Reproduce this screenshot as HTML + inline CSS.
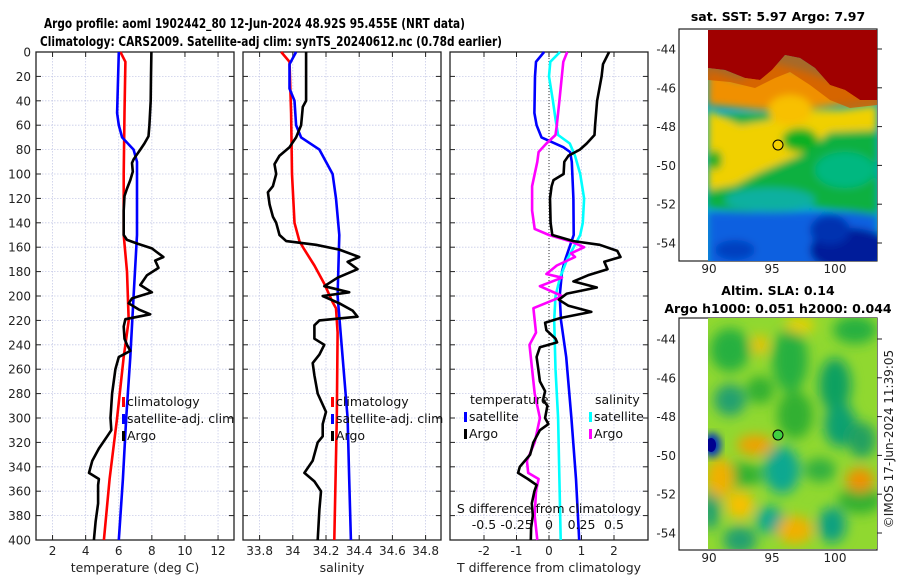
<!DOCTYPE html>
<html><head><meta charset="utf-8"><style>
html,body{margin:0;padding:0;background:#fff;}
svg{display:block;font-family:"DejaVu Sans","Liberation Sans",sans-serif;}
</style></head><body>
<svg id="fig" width="900" height="580" viewBox="0 0 900 580" xmlns="http://www.w3.org/2000/svg">
<defs>
<filter id="bl" x="-20%" y="-20%" width="140%" height="140%"><feGaussianBlur stdDeviation="4"/></filter>
<filter id="bl2" x="-20%" y="-20%" width="140%" height="140%"><feGaussianBlur stdDeviation="6"/></filter>
<clipPath id="c1"><rect x="708" y="30" width="169" height="231"/></clipPath>
<clipPath id="c2"><rect x="708" y="318" width="169" height="231"/></clipPath>
</defs>
<text x="44" y="28" font-size="13" font-weight="bold" textLength="421" lengthAdjust="spacingAndGlyphs">Argo profile: aoml 1902442_80 12-Jun-2024 48.92S 95.455E (NRT data)</text>
<text x="40" y="46" font-size="13" font-weight="bold" textLength="462" lengthAdjust="spacingAndGlyphs">Climatology: CARS2009. Satellite-adj clim: synTS_20240612.nc (0.78d earlier)</text>
<g id="plots"></g>
<!-- Map 1: SST -->
<g>
<rect x="679" y="29" width="198" height="232" fill="#fff" stroke="#222" stroke-width="1.2"/>
<g clip-path="url(#c1)">
<rect x="708" y="30" width="169" height="231" fill="#00a8d0"/>
<g filter="url(#bl)">
<rect x="708" y="212" width="169" height="60" fill="#1060e0"/>
<ellipse cx="850" cy="250" rx="40" ry="22" fill="#001a9a"/>
<ellipse cx="830" cy="230" rx="20" ry="15" fill="#0030b0"/>
<ellipse cx="735" cy="250" rx="20" ry="10" fill="#0040c0"/>
<path d="M708 115 L877 110 L877 215 L800 205 L750 212 L708 208 Z" fill="#10b040"/>
<path d="M708 110 L740 125 L770 120 L800 110 L840 110 L877 105 L877 130 L830 132 L800 155 L760 172 L735 185 L708 190 Z" fill="#f0d000"/>
<path d="M708 70 L740 80 L770 62 L800 70 L830 80 L877 85 L877 100 L840 105 L800 110 L760 110 L740 108 L708 105 Z" fill="#f09000"/>
<ellipse cx="790" cy="110" rx="22" ry="15" fill="#f8c000"/>
<ellipse cx="770" cy="200" rx="45" ry="12" fill="#10b0a0"/>
<ellipse cx="845" cy="170" rx="30" ry="18" fill="#00b880"/>
<ellipse cx="800" cy="140" rx="18" ry="12" fill="#10b020"/>
<ellipse cx="715" cy="160" rx="7" ry="10" fill="#20b020"/>
</g>
<path d="M708 30 L877 30 L877 100 L860 100 L845 90 L830 85 L815 68 L800 58 L785 55 L772 70 L760 80 L745 78 L725 70 L708 68 Z" fill="#a00000"/>
<path d="M708 68 L725 70 L745 78 L760 80 L772 70 L785 55 L800 58 L815 68 L830 85 L845 90 L860 100 L877 100 L877 105 L850 108 L830 100 L810 85 L790 72 L775 78 L755 88 L730 82 L708 80 Z" fill="#d05a00" opacity="0.8"/>
</g>
<circle cx="778" cy="145" r="5" fill="#f4d000" stroke="#000" stroke-width="1"/>
<text x="778" y="21" font-size="12.5" font-weight="bold" text-anchor="middle">sat. SST: 5.97 Argo: 7.97</text>
</g>
<!-- Map 2: SLA -->
<g>
<rect x="679" y="318" width="198" height="232" fill="#fff" stroke="#222" stroke-width="1.2"/>
<g clip-path="url(#c2)">
<rect x="708" y="318" width="169" height="231" fill="#90d830"/>
<g filter="url(#bl2)">
<ellipse cx="730" cy="350" rx="20" ry="22" fill="#28b040"/>
<ellipse cx="790" cy="360" rx="18" ry="32" fill="#28b040"/>
<ellipse cx="855" cy="330" rx="22" ry="14" fill="#28b040"/>
<ellipse cx="835" cy="385" rx="16" ry="27" fill="#10a060"/>
<ellipse cx="730" cy="400" rx="16" ry="16" fill="#20a070"/>
<ellipse cx="795" cy="415" rx="18" ry="24" fill="#30b030"/>
<ellipse cx="840" cy="425" rx="16" ry="22" fill="#10a070"/>
<ellipse cx="862" cy="440" rx="14" ry="18" fill="#20a060"/>
<ellipse cx="782" cy="470" rx="18" ry="24" fill="#10a890"/>
<ellipse cx="740" cy="475" rx="24" ry="12" fill="#30b030"/>
<ellipse cx="820" cy="470" rx="16" ry="12" fill="#30b040"/>
<ellipse cx="770" cy="520" rx="14" ry="14" fill="#10a890"/>
<ellipse cx="832" cy="525" rx="14" ry="18" fill="#10a080"/>
<ellipse cx="860" cy="500" rx="22" ry="14" fill="#30b030"/>
<ellipse cx="740" cy="540" rx="17" ry="14" fill="#20a070"/>
<ellipse cx="710" cy="510" rx="10" ry="20" fill="#20a070"/>
<ellipse cx="760" cy="390" rx="14" ry="14" fill="#30b030"/>
<ellipse cx="755" cy="445" rx="18" ry="10" fill="#f0a000"/>
<ellipse cx="720" cy="478" rx="14" ry="20" fill="#f0b000"/>
<ellipse cx="740" cy="505" rx="14" ry="14" fill="#f8c000"/>
<ellipse cx="860" cy="480" rx="14" ry="12" fill="#f09000"/>
<ellipse cx="795" cy="530" rx="18" ry="14" fill="#f0b000"/>
<ellipse cx="760" cy="345" rx="8" ry="10" fill="#f0c000"/>
<ellipse cx="800" cy="325" rx="15" ry="8" fill="#e8d000"/>
</g>
<ellipse cx="712" cy="445" rx="9" ry="12" fill="#0030c0" filter="url(#bl)"/>
<ellipse cx="711" cy="445" rx="5" ry="7" fill="#000090"/>
</g>
<circle cx="778" cy="435" r="5" fill="#40d040" stroke="#000" stroke-width="1"/>
<text x="778" y="295" font-size="12.5" font-weight="bold" text-anchor="middle">Altim. SLA: 0.14</text>
<text x="778" y="313" font-size="12.5" font-weight="bold" text-anchor="middle">Argo h1000: 0.051 h2000: 0.044</text>
</g>
<text transform="translate(893,439) rotate(-90)" font-size="12" text-anchor="middle" fill="#222">©IMOS 17-Jun-2024 11:39:05</text>
<g id="mapaxes"></g>
</svg>
<script>
const NS="http://www.w3.org/2000/svg";
// depth grid
const depthTicks=[0,20,40,60,80,100,120,140,160,180,200,220,240,260,280,300,320,340,360,380,400];
// Temperature panel
const tempTicks=[2,4,6,8,10,12];
const tArgoD=[0,20,40,60,69,75,80,85,88,91,98,105,112,118,130,150,154,157,161,164,168,171,177,183,191,197,202,206,211,215,219,225,235,240,245,250,260,280,300,310,315,325,335,345,350,355,370,385,400];
const tArgoV=[7.97,7.95,7.93,7.85,7.8,7.55,7.3,7.05,6.9,6.8,6.85,6.7,6.5,6.35,6.3,6.3,6.5,7.1,8.0,8.3,8.7,8.2,8.4,7.7,7.3,8.0,6.8,6.6,7.2,7.9,6.4,6.3,6.35,6.5,6.7,6.0,5.8,5.6,5.5,5.55,5.3,4.8,4.4,4.2,4.8,4.75,4.75,4.6,4.5];
const tClimD=[0,8,50,100,150,180,220,250,300,350,400];
const tClimV=[6.1,6.4,6.35,6.3,6.3,6.5,6.6,6.3,5.9,5.45,5.1];
const tSatD=[0,50,60,70,80,90,150,200,250,300,350,400];
const tSatV=[6.0,5.9,6.0,6.2,6.9,7.1,7.1,6.9,6.7,6.45,6.25,6.0];
// Salinity panel
const salTicks=[33.8,34,34.2,34.4,34.6,34.8];
const sArgoD=[0,40,45,60,70,78,85,92,100,110,115,125,135,140,150,155,158,162,168,172,178,185,192,197,200,206,212,217,220,224,235,240,248,255,265,280,295,305,315,320,335,345,352,360,375,400];
const sArgoV=[34.08,34.08,34.06,34.05,34.02,33.98,33.92,33.89,33.9,33.88,33.85,33.86,33.88,33.9,33.92,33.96,34.14,34.28,34.4,34.33,34.39,34.27,34.19,34.34,34.18,34.28,34.36,34.39,34.16,34.13,34.13,34.19,34.16,34.12,34.13,34.15,34.2,34.18,34.18,34.15,34.12,34.07,34.13,34.17,34.16,34.15];
const sClimD=[0,8,50,100,140,155,162,175,190,205,210,230,300,400];
const sClimV=[33.93,33.98,33.99,33.995,34.01,34.04,34.07,34.13,34.19,34.24,34.26,34.27,34.265,34.25];
const sSatD=[0,10,30,40,60,70,80,100,120,150,200,250,300,350,400];
const sSatV=[34.02,33.98,33.98,34.01,34.02,34.05,34.16,34.24,34.26,34.28,34.27,34.3,34.33,34.34,34.35];
// Difference panel
const dTicksT=[-2,-1,0,1,2];
const dTicksS=[-0.5,-0.25,0,0.25,0.5];
const dTArgoD=[0,10,20,40,60,68,75,80,85,90,100,105,110,120,140,150,155,158,163,168,172,178,183,188,193,198,203,208,213,218,222,228,235,238,242,250,260,270,278,285,290,300,305,310,320,330,340,345,350,355,360,370,380,390,400];
const dTArgoV=[1.85,1.66,1.62,1.48,1.42,1.4,1.16,0.95,0.6,0.47,0.45,0.14,0.08,0.03,0.05,0.1,0.75,1.56,2.1,2.2,1.7,1.8,1.2,0.75,1.47,0.55,0.3,0.6,1.3,0.35,-0.12,-0.08,0.2,0.25,-0.28,-0.38,-0.33,-0.28,-0.12,-0.18,-0.05,-0.12,-0.02,-0.28,-0.48,-0.58,-0.9,-0.95,-0.65,-0.38,-0.45,-0.53,-0.5,-0.55,-0.56];
const dTSatD=[0,8,20,50,60,70,78,82,90,120,150,160,170,180,200,220,250,300,350,400];
const dTSatV=[-0.15,-0.4,-0.43,-0.45,-0.38,-0.23,0.44,0.65,0.7,0.75,0.76,0.63,0.5,0.4,0.33,0.37,0.53,0.69,0.83,0.93];
const dSSatD=[0,8,20,40,55,68,75,85,100,120,140,150,160,170,185,200,220,260,300,350,400];
const dSSatV=[0.085,0.01,0.0,0.03,0.05,0.07,0.16,0.2,0.24,0.27,0.26,0.24,0.19,0.14,0.085,0.05,0.04,0.05,0.07,0.08,0.09];
const dSArgoD=[0,8,40,60,68,75,82,90,110,130,145,150,155,160,165,168,175,182,185,192,200,203,210,230,240,260,280,300,320,335,345,350,360,380,400];
const dSArgoV=[0.14,0.11,0.08,0.06,0.05,-0.02,-0.08,-0.09,-0.13,-0.13,-0.11,0.0,0.16,0.27,0.17,0.2,0.06,-0.02,0.1,-0.07,0.1,0.04,-0.12,-0.1,-0.15,-0.13,-0.11,-0.07,-0.11,-0.17,-0.16,-0.08,-0.1,-0.11,-0.09];
// map ticks
const latTicks=[-44,-46,-48,-50,-52,-54];
const lonTicks=[90,95,100];

const Y0=52,Y1=540;
const yD=d=>Y0+(d/400)*(Y1-Y0);
const xT=v=>36+(v-1)*16.55;
const xS=v=>243+(v-33.70)*166;
const xDT=v=>549+v*32.5;
const xDS=v=>549+v*130;

const plots=document.getElementById('plots');
function mk(tag,attrs,parent){const e=document.createElementNS(NS,tag);for(const k in attrs)e.setAttribute(k,attrs[k]);(parent||plots).appendChild(e);return e;}

function panel(name,x0,ticks,xf,labels,xlabel,showY){
  const g=mk('g',{});
  
  
  for(const d of depthTicks){const y=yD(d);
    mk('line',{x1:x0,x2:x0+198,y1:y,y2:y,stroke:'#c8cce8','stroke-width':0.8,'stroke-dasharray':'1.5,1.5'},g);
    mk('line',{x1:x0,x2:x0+5,y1:y,y2:y,stroke:'#222'},g);
    mk('line',{x1:x0+193,x2:x0+198,y1:y,y2:y,stroke:'#222'},g);
    if(showY){const t=mk('text',{x:31,y:y+4.5,'font-size':12,'text-anchor':'end',fill:'#222'},g);t.textContent=d;
      
      }
  }
  ticks.forEach((v,i)=>{const x=xf(v);
    mk('line',{x1:x,x2:x,y1:Y0,y2:Y1,stroke:'#c8cce8','stroke-width':0.8,'stroke-dasharray':'1.5,1.5'},g);
    mk('line',{x1:x,x2:x,y1:Y1,y2:Y1-5,stroke:'#222'},g);
    mk('line',{x1:x,x2:x,y1:Y0,y2:Y0+5,stroke:'#222'},g);
    if(labels){const t=mk('text',{x:x,y:555,'font-size':12,'text-anchor':'middle',fill:'#222'},g);t.textContent=labels[i];
      
      }
  });
  mk('rect',{x:x0,y:Y0,width:198,height:Y1-Y0,fill:'none',stroke:'#222','stroke-width':1.3},g);
  const xl=mk('text',{x:x0+99,y:572,'font-size':12.5,'text-anchor':'middle',fill:'#222'},g);xl.textContent=xlabel;
  
  
  return g;
}
function line(name,D,V,xf,color){
  const p=mk('polyline',{points:D.map((d,i)=>xf(V[i]).toFixed(1)+','+yD(d).toFixed(1)).join(' '),fill:'none',stroke:color,'stroke-width':2.6,'stroke-linejoin':'round'});
  
  
}
function legendItem(x,y,color,label,name){
  mk('rect',{x:x-3,y:y-9,width:3,height:10,fill:color});
  const t=mk('text',{x:x+2,y:y,'font-size':12.5,fill:'#111'});t.textContent=label;
  
  
}

panel('temperature-panel',36,tempTicks,xT,tempTicks.map(String),'temperature (deg C)',true);
line('temp-climatology-line',tClimD,tClimV,xT,'#ff0000');
line('temp-satellite-line',tSatD,tSatV,xT,'#0000ff');
line('temp-argo-line',tArgoD,tArgoV,xT,'#000000');
legendItem(125,406,'#ff0000','climatology','legend-climatology');
legendItem(125,423,'#0000ff','satellite-adj. clim','legend-satellite-adj');
legendItem(125,440,'#000000','Argo','legend-argo');

panel('salinity-panel',243,salTicks,xS,salTicks.map(String),'salinity',false);
line('sal-climatology-line',sClimD,sClimV,xS,'#ff0000');
line('sal-satellite-line',sSatD,sSatV,xS,'#0000ff');
line('sal-argo-line',sArgoD,sArgoV,xS,'#000000');
legendItem(334,406,'#ff0000','climatology','legend-climatology-sal');
legendItem(334,423,'#0000ff','satellite-adj. clim','legend-satellite-adj-sal');
legendItem(334,440,'#000000','Argo','legend-argo-sal');

const pg=panel('difference-panel',450,dTicksT,xDT,dTicksT.map(String),'T difference from climatology',false);
mk('line',{x1:549,x2:549,y1:Y0,y2:Y1,stroke:'#333','stroke-width':1,'stroke-dasharray':'1,2'});
line('dT-satellite-line',dTSatD,dTSatV,xDT,'#0000ff');
line('dS-satellite-line',dSSatD,dSSatV,xDS,'#00ffff');
line('dS-argo-line',dSArgoD,dSArgoV,xDS,'#ff00ff');
line('dT-argo-line',dTArgoD,dTArgoV,xDT,'#000000');
{const t=mk('text',{x:470,y:404,'font-size':12.5,fill:'#111'});t.textContent='temperature';


const s=mk('text',{x:595,y:404,'font-size':12.5,fill:'#111'});s.textContent='salinity';

}
legendItem(467,421,'#0000ff','satellite','legend-t-satellite');
legendItem(467,438,'#000000','Argo','legend-t-argo');
legendItem(592,421,'#00ffff','satellite','legend-s-satellite');
legendItem(592,438,'#ff00ff','Argo','legend-s-argo');
{const t=mk('text',{x:549,y:513,'font-size':12.5,'text-anchor':'middle',fill:'#111'});t.textContent='S difference from climatology';


dTicksS.forEach(v=>{const l=mk('text',{x:xDS(v),y:529,'font-size':12.5,'text-anchor':'middle',fill:'#111'});l.textContent=String(v);

});}

// map axes
const ma=document.getElementById('mapaxes');
function mapAxes(top,lat44y){
  latTicks.forEach(la=>{const y=lat44y+(-44-la)*19.4;
    mk('line',{x1:877,x2:882,y1:y,y2:y,stroke:'#222'},ma);
    const t=mk('text',{x:676,y:y+4.5,'font-size':12,'text-anchor':'end',fill:'#222'},ma);t.textContent=la;
    
    });
  lonTicks.forEach(lo=>{const x=709+(lo-90)*12.6;
    const t=mk('text',{x:x,y:top+244,'font-size':12,'text-anchor':'middle',fill:'#222'},ma);t.textContent=lo;
    
    });
}
mapAxes(29,49);
mapAxes(318,339);
</script>
</body></html>
